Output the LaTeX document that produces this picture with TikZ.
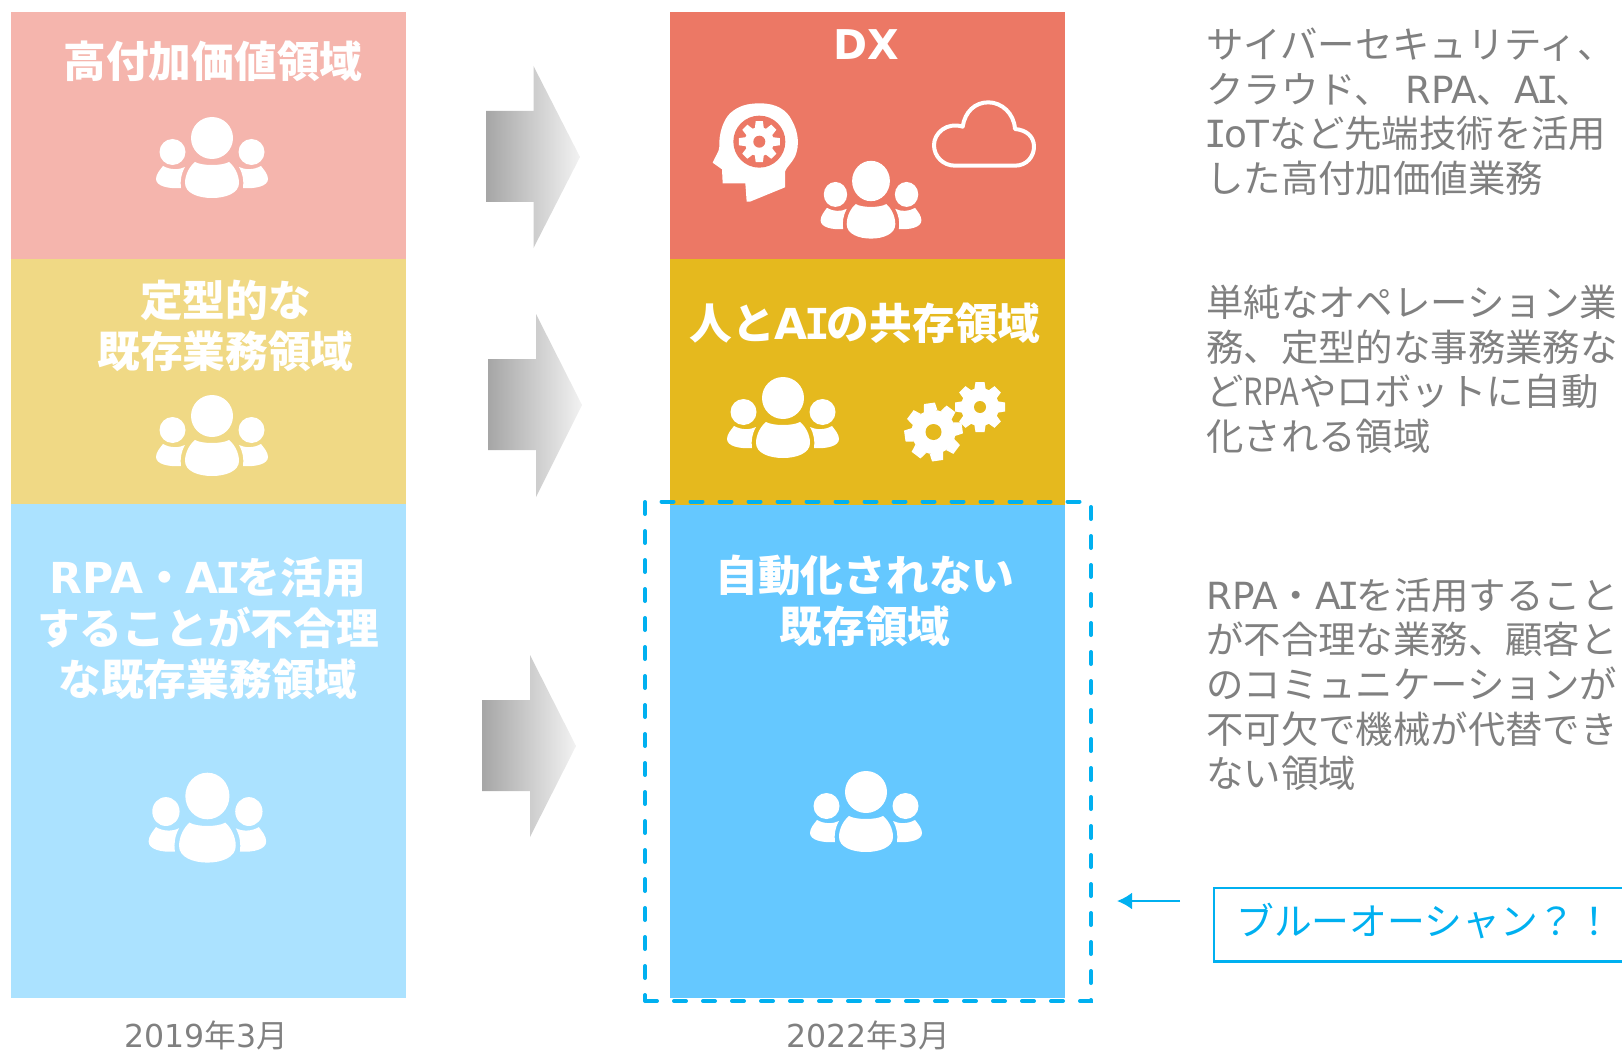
\documentclass[tikz,border=0pt]{standalone}
\usepackage{fontspec}
\usetikzlibrary{arrows.meta}
\setmainfont{Noto Sans CJK JP}
\newfontfamily\latf{DejaVu Sans}
\newfontfamily\monof{DejaVu Sans Mono}
\newfontfamily\nrwf[FakeStretch=0.82]{Noto Sans CJK JP}
\newcommand{\lat}[1]{{\latf #1}}
\newcommand{\serI}{{\monof\kern-.09em I\kern-.09em}}
\newcommand{\serIb}{{\monof\kern-.08em I\kern-.08em}}
\definecolor{cRedL}{HTML}{F5B5AD}
\definecolor{cYelL}{HTML}{F0D985}
\definecolor{cBluL}{HTML}{ABE2FF}
\definecolor{cRedR}{HTML}{EC7865}
\definecolor{cYelR}{HTML}{E5B91E}
\definecolor{cBluR}{HTML}{65C8FF}
\definecolor{cAcc}{HTML}{00B0F0}
\definecolor{cTxt}{HTML}{808080}
\tikzset{
  band/.style={anchor=north west,inner sep=0pt,outer sep=0pt,minimum width=395pt},
  title/.style={text=white,font=\fontsize{42.7}{50.8}\selectfont\bfseries,align=center,inner sep=0pt},
  desc/.style={text=cTxt,font=\fontsize{37.4}{44.7}\selectfont,align=left,anchor=west,inner sep=0pt},
  datelbl/.style={text=cTxt,font=\fontsize{31.6}{36}\selectfont,inner sep=0pt},
  bigarrow/.style={left color=black!35,right color=black!5,draw=none},
  person/.pic={
    \fill[white] (0,0) circle (21);
    \fill[white] (-39.5,14) circle (13);
    \fill[white] (39.5,14) circle (13);
    \fill[white] (-17,24) .. controls (-10,28) and (10,28) .. (17,24) .. controls (22,28) and (27,36) .. (27,45) .. controls (27,55) and (14,60) .. (0,60) .. controls (-14,60) and (-27,55) .. (-27,45) .. controls (-27,36) and (-22,28) .. (-17,24) -- cycle;
    \fill[white] (27,29) .. controls (33,32) and (42,32) .. (49,28) .. controls (52,32) and (56,36) .. (56,41) .. controls (56,48) and (44,51) .. (31,50) .. controls (32,43) and (31,36) .. (27,29) -- cycle;
    \fill[white] (-27,29) .. controls (-33,32) and (-42,32) .. (-49,28) .. controls (-52,32) and (-56,36) .. (-56,41) .. controls (-56,48) and (-44,51) .. (-31,50) .. controls (-32,43) and (-31,36) .. (-27,29) -- cycle;
  }
}
% centre x, centre y, outer radius, body radius, hole radius, tooth half width, hole colour, rotation
\newcommand{\gearicon}[8]{%
  \begin{scope}[shift={(#1,#2)}]
    \fill[white] (0,0) circle (#4);
    \foreach \a in {0,45,...,315}{
      \fill[white,rotate=\a+#8] ({-1.25*#6},{-#4+1}) -- ({-#6},-#3) -- (#6,-#3) -- ({1.25*#6},{-#4+1}) -- cycle;
    }
    \fill[#7] (0,0) circle (#5);
  \end{scope}}
\begin{document}
\begin{tikzpicture}[x=1pt,y=-1pt]
\useasboundingbox (0,0) rectangle (1622,1051);
% left column
\node[band,fill=cRedL,minimum height=247pt] (l1) at (11,12) {};
\node[band,fill=cYelL,minimum height=245pt] (l2) at (11,259) {};
\node[band,fill=cBluL,minimum height=494pt] (l3) at (11,504) {};
% right column
\node[band,fill=cRedR,minimum height=247pt] (r1) at (670,12) {};
\node[band,fill=cYelR,minimum height=246pt] (r2) at (670,259) {};
\node[band,fill=cBluR,minimum height=493pt] (r3) at (670,505) {};
% titles
\node[title] (t1) at (213,61.5) {高付加価値領域};
\node[title] (t2) at (225.5,325.5) {定型的な\\既存業務領域};
\node[title] (t3) at (208,628.5) {\lat{RPA}・\lat{A\serIb}を活用\\することが不合理\\な既存業務領域};
\node[title,font=\fontsize{41}{50}\selectfont\bfseries\latf] (t4) at (866,44.5) {DX};
\node[title] (t5) at (865,323) {人と\lat{A\serIb}の共存領域};
\node[title] (t6) at (865,600.5) {自動化されない\\既存領域};
% persons
\pic at (212,138) {person};
\pic at (212,416) {person};
\pic[xscale=1.05,yscale=1.11] at (207.4,796) {person};
\pic[xscale=0.9,yscale=0.96] at (871,181) {person};
\pic at (783,398) {person};
\pic at (866,792) {person};
% gears
\gearicon{933.5}{432}{29}{22}{8}{5.5}{cYelR}{8}
\gearicon{980}{407}{25}{19}{6}{4.5}{cYelR}{0}
% head and cloud (zoom coordinates)
\begin{scope}[shift={(640,0)},scale=0.33333]
  \fill[white] (320,605) -- (316,550) -- (248,550) -- (246,508) -- (218,488) .. controls (225,470) and (238,455) .. (238,440) .. controls (236,400) and (250,360) .. (270,340) .. controls (295,318) and (320,310) .. (360,310) .. controls (410,310) and (440,330) .. (455,360) .. controls (475,395) and (480,435) .. (465,470) .. controls (455,490) and (440,500) .. (435,515) -- (435,562) -- (330,605) -- cycle;
  \fill[cRedR] (358,425) circle (78);
\end{scope}
\gearicon{759.3}{141.7}{20.5}{14.5}{6}{3.6}{cRedR}{0}
\begin{scope}[shift={(640,0)},scale=0.33333]
  \draw[white,line width=4pt,line join=round] (945,497) -- (1125,497) .. controls (1160,497) and (1182,470) .. (1182,440) .. controls (1182,410) and (1160,390) .. (1125,387) .. controls (1122,340) and (1085,307) .. (1045,307) .. controls (1005,307) and (975,335) .. (968,380) .. controls (920,365) and (882,400) .. (882,435) .. controls (882,470) and (910,497) .. (945,497) -- cycle;
\end{scope}
% big arrows
\shade[bigarrow] (486,111) -- (533.5,111) -- (533.5,66) -- (580,157) -- (533.5,248) -- (533.5,202) -- (486,202) -- cycle;
\shade[bigarrow] (488,359) -- (536,359) -- (536,314) -- (582,405) -- (536,497) -- (536,450) -- (488,450) -- cycle;
\shade[bigarrow] (482,700) -- (530,700) -- (530,655) -- (576,746) -- (530,837) -- (530,791) -- (482,791) -- cycle;
% dashed frame
\node[draw=cAcc,line width=4pt,dash pattern=on 12pt off 17pt,line cap=round,anchor=north west,inner sep=0pt,outer sep=0pt,minimum width=446pt,minimum height=499.5pt] (frame) at (645,501.5) {};
% descriptions
\node[desc] (d1) at (1206,111.7) {サイバーセキュリティ、\\クラウド、\hspace{5pt} \lat{RPA}、\lat{A\serI}、\\\hspace{2pt}\lat{\serI oT}など先端技術を活用\\した高付加価値業務};
\node[desc] (d2) at (1206,369.3) {単純なオペレーション業\\務、定型的な事務業務な\\ど{\nrwf RPA}やロボットに自動\\化される領域};
\node[desc] (d3) at (1206,684.5) {\lat{RPA}・\lat{A\serI}を活用すること\\が不合理な業務、顧客と\\のコミュニケーションが\\不可欠で機械が代替でき\\ない領域};
% blue ocean box
\draw[cAcc,line width=2.2pt] (1640,888) -- (1214,888) -- (1214,961.5) -- (1640,961.5);
\node[text=cAcc,font=\fontsize{37.8}{44}\selectfont,anchor=west,inner sep=0pt] (bo) at (1236,921) {ブルーオーシャン？！};
\coordinate (arrS) at (1180,901);
\coordinate (arrE) at (1117,901);
\draw[cAcc,line width=2.4pt,-{Latex[length=15pt,width=17pt]}] (arrS) -- (arrE);
% dates
\node[datelbl] (y1) at (206,1035) {\lat{2019}年\lat{3}月};
\node[datelbl] (y2) at (868,1035) {\lat{2022}年\lat{3}月};
\end{tikzpicture}
\end{document}
